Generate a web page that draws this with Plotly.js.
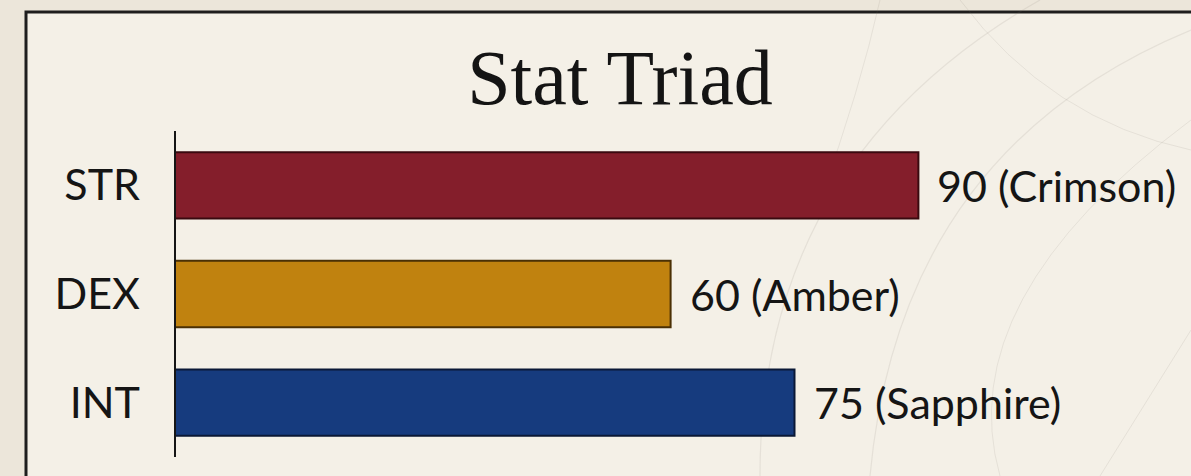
<!DOCTYPE html>
<html>
<head>
<meta charset="utf-8">
<script src="https://cdn.plot.ly/plotly-3.0.1.min.js"></script>
<style>
  html, body { margin: 0; padding: 0; background: #ECE6DA; }
  #chart { width: 1191px; height: 476px; }
</style>
</head>
<body>
<div id="chart"></div>
<script>
// ---- data ----
const categories = ["STR", "DEX", "INT"];
const values = [90, 60, 75];
const colorNames = ["Crimson", "Amber", "Sapphire"];
const barColors = ["#841E2B", "#C0820F", "#163B7E"];
const outlineColors = ["#3A0A10", "#4A3005", "#0A1836"];
const titleText = "Stat Triad";

// ---- layout geometry ----
const W = 1191, H = 476;
const L = 175, R = 190, T = 131, B = 19;
const pw = W - L - R, ph = H - T - B;
const px = x => (x - L) / pw;
const py = y => (H - B - y) / ph;

const trace = {
  type: "bar",
  orientation: "h",
  x: values,
  y: categories,
  marker: { color: barColors, line: { color: outlineColors, width: 2 } },
  width: 0.61,
  hoverinfo: "skip"
};

const annotations = categories.map((c, i) => ({
  x: values[i], y: c, xref: "x", yref: "y",
  text: values[i] + " (" + colorNames[i] + ")",
  showarrow: false, xanchor: "left", yanchor: "middle", xshift: 17, yshift: 0,
  font: { family: "Lato, 'Open Sans', sans-serif", size: 43, color: "#151515" }
}));

const faint = "rgba(120,115,105,0.12)";
const shapes = [
  { type: "rect", xref: "paper", yref: "paper", x0: px(26), x1: px(1230), y0: py(12), y1: py(520),
    fillcolor: "#F4F0E7", line: { color: "#1e1e1e", width: 3 }, layer: "below" },
  { type: "path", xref: "paper", yref: "paper", layer: "below", line: { color: faint, width: 1.2 },
    path: `M ${px(870)} ${py(476)} Q ${px(900)} ${py(150)} ${px(1191)} ${py(30)}` },
  { type: "path", xref: "paper", yref: "paper", layer: "below", line: { color: faint, width: 1.2 },
    path: `M ${px(760)} ${py(476)} Q ${px(760)} ${py(160)} ${px(1040)} ${py(0)}` },
  { type: "path", xref: "paper", yref: "paper", layer: "below", line: { color: faint, width: 1 },
    path: `M ${px(1000)} ${py(476)} Q ${px(950)} ${py(300)} ${px(1191)} ${py(120)}` },
  { type: "path", xref: "paper", yref: "paper", layer: "below", line: { color: faint, width: 1 },
    path: `M ${px(880)} ${py(0)} Q ${px(860)} ${py(90)} ${px(820)} ${py(200)}` },
  { type: "path", xref: "paper", yref: "paper", layer: "below", line: { color: faint, width: 1 },
    path: `M ${px(1100)} ${py(476)} L ${px(1191)} ${py(330)}` },
  { type: "path", xref: "paper", yref: "paper", layer: "below", line: { color: faint, width: 1 },
    path: `M ${px(960)} ${py(0)} Q ${px(1050)} ${py(120)} ${px(1191)} ${py(150)}` },
  { type: "line", xref: "paper", yref: "paper", layer: "above", x0: px(175), x1: px(175), y0: py(131), y1: py(457),
    line: { color: "#151515", width: 2 } }
];

const layout = {
  width: W, height: H,
  margin: { l: L, r: R, t: T, b: B, pad: 0 },
  paper_bgcolor: "#ECE6DA",
  plot_bgcolor: "rgba(0,0,0,0)",
  showlegend: false,
  title: {
    text: titleText,
    font: { family: "'Liberation Serif', 'Times New Roman', serif", size: 78, color: "#141414" },
    xref: "paper", x: px(620), xanchor: "center",
    yref: "container", y: 1 - 77 / H, yanchor: "middle"
  },
  xaxis: { range: [0, 100], visible: false, fixedrange: true },
  yaxis: {
    type: "category", range: [2.5, -0.5],
    showline: false, showgrid: false, zeroline: false, ticks: "",
    ticklabelstandoff: 34,
    tickfont: { family: "Lato, 'Open Sans', sans-serif", size: 43, color: "#151515" },
    fixedrange: true
  },
  bargap: 0.39,
  shapes: shapes,
  annotations: annotations
};

Plotly.newPlot("chart", [trace], layout, { displayModeBar: false, staticPlot: true });
</script>
</body>
</html>
